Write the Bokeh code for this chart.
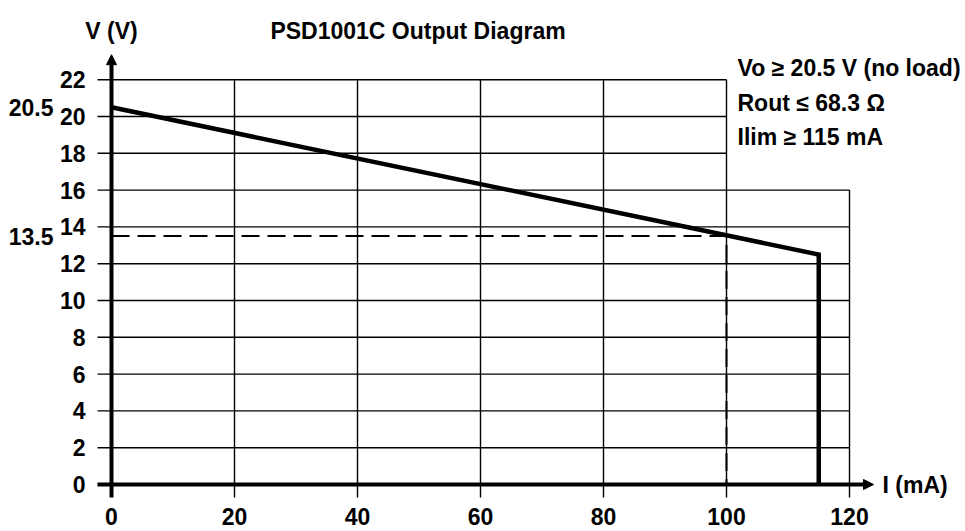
from bokeh.plotting import figure
from bokeh.models import Range1d, Arrow, NormalHead
from bokeh.core.properties import value
from bokeh.embed import file_html
from bokeh.resources import INLINE

# ---- data ----
current_ma = [0, 115, 115]
voltage_v = [20.5, 12.5, 0]
ref_current = [0, 100, 100]
ref_voltage = [13.5, 13.5, 0]
v_ticks = [0, 2, 4, 6, 8, 10, 12, 14, 16, 18, 20, 22]
i_ticks = [0, 20, 40, 60, 80, 100, 120]
v_marks = [20.5, 13.5]
notes = ["Vo \u2265 20.5 V (no load)", "Rout \u2264 68.3 \u03a9", "Ilim \u2265 115 mA"]
title_text = "PSD1001C Output Diagram"
y_title = "V (V)"
x_title = "I (mA)"

# ---- layout (pixel mapping) ----
W, H = 965, 531
PX_X = 6.15      # px per mA
PX_Y = 18.4      # px per V
ORG_X, ORG_Y = 111, 484   # origin in canvas px
x0 = -ORG_X / PX_X
x1 = x0 + W / PX_X
y1 = ORG_Y / PX_Y
y0 = y1 - H / PX_Y

def dx(px):
    return px / PX_X

def dy(px):
    return px / PX_Y

FONT = value("Liberation Sans")
FS = "23px"

p = figure(width=W, height=H, x_range=Range1d(x0, x1), y_range=Range1d(y0, y1),
           x_axis_type=None, y_axis_type=None, output_backend="svg",
           toolbar_location=None, min_border=0)
p.grid.visible = False
p.outline_line_color = None

# grid lines (horizontal)
hx0, hx1, hy = [], [], []
for v in v_ticks[1:]:
    hy.append(v)
    hx0.append(-dx(14))
    hx1.append(i_ticks[-1] if v <= 16 else i_ticks[-2])
p.segment(x0=hx0, y0=hy, x1=hx1, y1=hy, line_color="black", line_width=1.4)

# grid lines (vertical)
vx, vy0, vy1 = [], [], []
for i in i_ticks[1:]:
    vx.append(i)
    vy0.append(-dy(13))
    vy1.append(v_ticks[-1] if i <= 100 else 16)
p.segment(x0=vx, y0=vy0, x1=vx, y1=vy1, line_color="black", line_width=1.4)

# axes with arrows
p.add_layout(Arrow(end=NormalHead(size=10, fill_color="black", line_color="black", line_width=1),
                   x_start=0, y_start=-dy(13), x_end=0, y_end=v_ticks[-1] + dy(25),
                   line_width=4, line_color="black"))
p.add_layout(Arrow(end=NormalHead(size=10, fill_color="black", line_color="black", line_width=1),
                   x_start=-dx(14), y_start=0, x_end=i_ticks[-1] + dx(24), y_end=0,
                   line_width=4, line_color="black"))

# reference dashed lines
p.line(ref_current, ref_voltage, line_color="black", line_width=2, line_dash="18 8")

# output characteristic
p.line(current_ma, voltage_v, line_color="black", line_width=4.5, line_join="miter")

# tick labels
p.text(x=[-dx(26)] * len(v_ticks), y=v_ticks, text=[str(v) for v in v_ticks],
       text_font=FONT, text_font_style="bold", text_font_size=FS,
       text_align="right", text_baseline="middle", text_color="black")
p.text(x=[-dx(58)] * len(v_marks), y=v_marks, text=[str(v) for v in v_marks],
       text_font=FONT, text_font_style="bold", text_font_size=FS,
       text_align="right", text_baseline="middle", text_color="black")
p.text(x=i_ticks, y=[-dy(32)] * len(i_ticks), text=[str(i) for i in i_ticks],
       text_font=FONT, text_font_style="bold", text_font_size=FS,
       text_align="center", text_baseline="middle", text_color="black")

# titles
p.text(x=[0], y=[dy(454)], text=[y_title], text_font=FONT, text_font_style="bold",
       text_font_size=FS, text_align="center", text_baseline="middle")
p.text(x=[dx(306.5)], y=[dy(454)], text=[title_text], text_font=FONT, text_font_style="bold",
       text_font_size=FS, text_align="center", text_baseline="middle")
p.text(x=[dx(771)], y=[0], text=[x_title], text_font=FONT, text_font_style="bold",
       text_font_size=FS, text_align="left", text_baseline="middle")

# notes
p.text(x=[dx(626)] * 3, y=[dy(417), dy(382), dy(348)], text=notes, text_font=FONT,
       text_font_style="bold", text_font_size=FS, text_align="left",
       text_baseline="alphabetic")

open("out.html", "w").write(file_html(p, INLINE))
